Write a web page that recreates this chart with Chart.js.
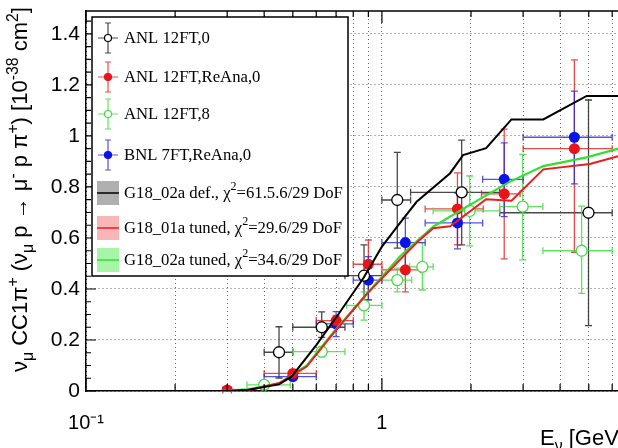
<!DOCTYPE html>
<html>
<head>
<meta charset="utf-8">
<script src="https://cdn.jsdelivr.net/npm/chart.js@4.4.1/dist/chart.umd.min.js"></script>
<style>
html, body { margin: 0; padding: 0; background: #fff; overflow: hidden; }
#wrap { width: 618px; height: 448px; overflow: hidden; }
canvas { display: block; }
</style>
</head>
<body>
<div id="wrap"><canvas id="myChart" width="650" height="448"></canvas></div>
<script>
// axis ticks
var yTicks = [0, 0.2, 0.4, 0.6, 0.8, 1, 1.2, 1.4];
var xTicks = [0.1, 0.2, 0.3, 0.4, 0.5, 0.6, 0.7, 0.8, 0.9, 1, 2, 3, 4, 5, 6];
var xMajor = [0.1, 1];

// ANL 12FT,0 (open black)
var anl0E    = [0.449, 0.626, 0.87, 1.127, 1.86, 4.99];
var anl0Elo  = [0.40, 0.50, 0.75, 1.0, 1.25, 2.5];
var anl0Ehi  = [0.50, 0.75, 1.0, 1.25, 2.5, 6.0];
var anl0Sig  = [0.152, 0.25, 0.452, 0.749, 0.779, 0.699];
var anl0Lo   = [0.051, 0.21, 0.357, 0.56, 0.573, 0.256];
var anl0Hi   = [0.252, 0.31, 0.573, 0.936, 0.984, 1.141];

// ANL 12FT,ReAna,0 (red)
var anlRE    = [0.30, 0.50, 0.70, 0.90, 1.2, 1.80, 2.59, 4.47];
var anlRElo  = [0.29, 0.40, 0.60, 0.80, 1.0, 1.4, 2.17, 3.0];
var anlREhi  = [0.31, 0.60, 0.80, 1.0, 1.35, 2.2, 2.93, 6.0];
var anlRSig  = [0.004, 0.069, 0.276, 0.497, 0.475, 0.714, 0.773, 0.95];
var anlRLo   = [0.0, 0.057, 0.256, 0.357, 0.389, 0.573, 0.518, 0.544];
var anlRHi   = [0.008, 0.081, 0.296, 0.592, 0.592, 0.855, 1.027, 1.298];

// ANL 12FT,8 (open green)
var anl8E    = [0.40, 0.626, 0.87, 1.127, 1.37, 1.98, 2.99, 4.73];
var anl8Elo  = [0.35, 0.50, 0.76, 1.0, 1.24, 1.49, 2.5, 3.5];
var anl8Ehi  = [0.49, 0.75, 1.0, 1.26, 1.49, 2.5, 3.5, 6.0];
var anl8Sig  = [0.024, 0.154, 0.336, 0.435, 0.487, 0.706, 0.723, 0.55];
var anl8Lo   = [0.014, 0.134, 0.278, 0.389, 0.396, 0.569, 0.514, 0.383];
var anl8Hi   = [0.034, 0.174, 0.389, 0.482, 0.582, 0.843, 0.928, 0.725];

// BNL 7FT,ReAna,0 (blue)
var bnlE     = [0.50, 0.70, 0.90, 1.2, 1.80, 2.59, 4.47];
var bnlElo   = [0.40, 0.60, 0.80, 1.0, 1.4, 2.19, 3.0];
var bnlEhi   = [0.60, 0.80, 1.0, 1.4, 2.19, 3.0, 6.0];
var bnlSig   = [0.056, 0.263, 0.435, 0.582, 0.659, 0.83, 0.995];
var bnlLo    = [0.044, 0.213, 0.357, 0.487, 0.557, 0.684, 0.812];
var bnlHi    = [0.068, 0.311, 0.527, 0.678, 0.776, 0.973, 1.176];

// model curves
var defE   = [0.1, 0.30, 0.35, 0.449, 0.495, 0.60, 0.703, 0.865, 1.0, 1.15, 1.31, 1.70, 1.88, 2.25, 2.74, 3.51, 4.92, 7];
var defSig = [0, 0, 0.004, 0.026, 0.056, 0.18, 0.291, 0.442, 0.566, 0.658, 0.742, 0.854, 0.925, 0.952, 1.065, 1.065, 1.157, 1.157];
var tun1E   = [0.1, 0.30, 0.358, 0.45, 0.557, 0.685, 0.888, 1.15, 1.32, 1.49, 1.70, 2.25, 2.74, 3.51, 5.04, 7];
var tun1Sig = [0, 0, 0.004, 0.031, 0.096, 0.226, 0.38, 0.514, 0.585, 0.638, 0.646, 0.752, 0.746, 0.869, 0.89, 0.935];
var tun2E   = [0.1, 0.28, 0.35, 0.45, 0.557, 0.685, 0.888, 1.15, 1.49, 1.93, 2.7, 3.51, 4.92, 7];
var tun2Sig = [0, 0, 0.006, 0.03, 0.1, 0.23, 0.38, 0.527, 0.644, 0.722, 0.82, 0.882, 0.916, 0.965];

function pts(xs, ys) {
    return xs.map(function (x, i) { return { x: x, y: ys[i] }; });
}

// draws text with ^{..} and _{..} parts, returns width
function drawRich(ctx, str, x, y, size, family) {
    var parts = [], re = /([\^_])\{([^}]*)\}/g, last = 0, m;
    while ((m = re.exec(str)) !== null) {
        if (m.index > last) parts.push({ t: str.slice(last, m.index), k: '' });
        parts.push({ t: m[2], k: m[1] });
        last = re.lastIndex;
    }
    if (last < str.length) parts.push({ t: str.slice(last), k: '' });
    var cx = x;
    parts.forEach(function (p) {
        var s = p.k ? size * 0.72 : size;
        var dy = p.k === '^' ? -size * 0.42 : (p.k === '_' ? size * 0.25 : 0);
        ctx.font = s + 'px ' + family;
        ctx.fillText(p.t, cx, y + dy);
        cx += ctx.measureText(p.t).width;
    });
    return cx - x;
}

var errBars = {
    id: 'errBars',
    beforeDatasetsDraw: function (chart) {
        var ctx = chart.ctx, xs = chart.scales.x, ys = chart.scales.y;
        chart.data.datasets.forEach(function (ds) {
            if (!ds.err) return;
            ctx.save();
            ctx.strokeStyle = ds.errColor;
            ctx.lineWidth = 1.3;
            ds.data.forEach(function (p, i) {
                var px = xs.getPixelForValue(p.x), py = ys.getPixelForValue(p.y);
                var x0 = xs.getPixelForValue(ds.err.xlo[i]), x1 = xs.getPixelForValue(ds.err.xhi[i]);
                var y0 = ys.getPixelForValue(ds.err.ylo[i]), y1 = ys.getPixelForValue(ds.err.yhi[i]);
                var c = 3.5;
                ctx.beginPath();
                ctx.moveTo(x0, py); ctx.lineTo(x1, py);
                ctx.moveTo(x0, py - c); ctx.lineTo(x0, py + c);
                ctx.moveTo(x1, py - c); ctx.lineTo(x1, py + c);
                ctx.moveTo(px, y0); ctx.lineTo(px, y1);
                ctx.moveTo(px - c, y0); ctx.lineTo(px + c, y0);
                ctx.moveTo(px - c, y1); ctx.lineTo(px + c, y1);
                ctx.stroke();
            });
            ctx.restore();
        });
    }
};

var frame = {
    id: 'frame',
    afterDraw: function (chart) {
        var ctx = chart.ctx, a = chart.chartArea, xs = chart.scales.x, ys = chart.scales.y;
        ctx.save();
        ctx.strokeStyle = '#000';
        ctx.lineWidth = 1.5;
        ctx.beginPath();
        ctx.moveTo(a.left, a.top); ctx.lineTo(a.right, a.top); ctx.lineTo(a.right, a.bottom);
        ctx.stroke();
        // inward ticks
        ctx.lineWidth = 1.2;
        ctx.beginPath();
        xTicks.forEach(function (v) {
            var px = xs.getPixelForValue(v);
            var big = xMajor.indexOf(v) >= 0;
            ctx.moveTo(px, a.bottom); ctx.lineTo(px, a.bottom - (big ? 13 : 7));
            ctx.moveTo(px, a.top); ctx.lineTo(px, a.top + (big ? 12 : 6));
        });
        for (var k = 0; k <= 29; k++) {
            var v = k * 0.05, py = ys.getPixelForValue(v);
            var len = (k % 4 === 0) ? 10 : 5;
            ctx.moveTo(a.left, py); ctx.lineTo(a.left + len, py);
        }
        ctx.stroke();

        // legend
        var lx0 = 92, ly0 = 17, lx1 = 348, ly1 = 276;
        var rows = [38, 77, 114, 155, 193, 228, 260];
        ctx.fillStyle = '#fff';
        ctx.fillRect(lx0, ly0, lx1 - lx0, ly1 - ly0);
        ctx.lineWidth = 1.5;
        ctx.strokeRect(lx0, ly0, lx1 - lx0, ly1 - ly0);
        chart.data.datasets.forEach(function (ds, i) {
            var cy = rows[i], mx = 108;
            ctx.save();
            if (ds.err) {
                ctx.strokeStyle = ds.errColor;
                ctx.lineWidth = 1.2;
                ctx.beginPath();
                ctx.moveTo(98, cy); ctx.lineTo(118, cy);
                ctx.moveTo(mx, cy - 15); ctx.lineTo(mx, cy + 15);
                ctx.moveTo(mx - 3, cy - 15); ctx.lineTo(mx + 3, cy - 15);
                ctx.moveTo(mx - 3, cy + 15); ctx.lineTo(mx + 3, cy + 15);
                ctx.stroke();
                ctx.beginPath();
                ctx.arc(mx, cy, 3.5, 0, Math.PI * 2);
                ctx.fillStyle = ds.pointBackgroundColor;
                ctx.fill();
                ctx.strokeStyle = ds.pointBorderColor;
                ctx.lineWidth = 1.2;
                ctx.stroke();
            } else {
                ctx.fillStyle = ds.bandColor;
                ctx.fillRect(97, cy - 12, 22, 24);
                ctx.strokeStyle = ds.borderColor;
                ctx.lineWidth = 1.5;
                ctx.beginPath();
                ctx.moveTo(97, cy); ctx.lineTo(119, cy);
                ctx.stroke();
            }
            ctx.fillStyle = '#000';
            ctx.textBaseline = 'middle';
            drawRich(ctx, ds.label, 124, cy + 1, 16.7, '"Liberation Serif", serif');
            ctx.restore();
        });

        // axis titles
        ctx.fillStyle = '#000';
        ctx.textBaseline = 'alphabetic';
        drawRich(ctx, 'E_{\u03bd} [GeV]', 540, 445, 22, '"Liberation Sans", Arial, sans-serif');
        ctx.save();
        ctx.translate(27, 372);
        ctx.rotate(-Math.PI / 2);
        drawRich(ctx, '\u03bd_{\u03bc} CC1\u03c0^{+} (\u03bd_{\u03bc} p \u2192 \u03bc^{-} p \u03c0^{+}) [10^{-38} cm^{2}]', 0, 0, 22, '"Liberation Sans", Arial, sans-serif');
        ctx.restore();
        ctx.restore();
    }
};

var ctx = document.getElementById('myChart').getContext('2d');
var myChart = new Chart(ctx, {
    type: 'scatter',
    data: {
        datasets: [{
            label: 'ANL 12FT,0',
            data: pts(anl0E, anl0Sig),
            err: { xlo: anl0Elo, xhi: anl0Ehi, ylo: anl0Lo, yhi: anl0Hi },
            errColor: 'rgba(40,40,40,0.85)',
            pointRadius: 5.5, pointBorderWidth: 1.3,
            pointBackgroundColor: '#fff', pointBorderColor: '#000',
            order: 2
        }, {
            label: 'ANL 12FT,ReAna,0',
            data: pts(anlRE, anlRSig),
            err: { xlo: anlRElo, xhi: anlREhi, ylo: anlRLo, yhi: anlRHi },
            errColor: 'rgba(225,30,30,0.8)',
            pointRadius: 5.5, pointBorderWidth: 0,
            pointBackgroundColor: '#e8141a', pointBorderColor: '#e8141a',
            order: 2
        }, {
            label: 'ANL 12FT,8',
            data: pts(anl8E, anl8Sig),
            err: { xlo: anl8Elo, xhi: anl8Ehi, ylo: anl8Lo, yhi: anl8Hi },
            errColor: 'rgba(70,220,70,0.85)',
            pointRadius: 5.5, pointBorderWidth: 1.3,
            pointBackgroundColor: '#fff', pointBorderColor: '#44dd44',
            order: 2
        }, {
            label: 'BNL 7FT,ReAna,0',
            data: pts(bnlE, bnlSig),
            err: { xlo: bnlElo, xhi: bnlEhi, ylo: bnlLo, yhi: bnlHi },
            errColor: 'rgba(40,40,210,0.8)',
            pointRadius: 5.5, pointBorderWidth: 0,
            pointBackgroundColor: '#0a14e6', pointBorderColor: '#0a14e6',
            order: 2
        }, {
            label: 'G18_02a def., \u03c7^{2}=61.5.6/29 DoF',
            data: pts(defE, defSig),
            showLine: true, borderColor: '#000', borderWidth: 2,
            bandColor: '#b0b0b0', pointRadius: 0, order: 1
        }, {
            label: 'G18_01a tuned, \u03c7^{2}=29.6/29 DoF',
            data: pts(tun1E, tun1Sig),
            showLine: true, borderColor: '#ee1c1c', borderWidth: 2,
            bandColor: '#f9b6b6', pointRadius: 0, order: 1
        }, {
            label: 'G18_02a tuned, \u03c7^{2}=34.6/29 DoF',
            data: pts(tun2E, tun2Sig),
            showLine: true, borderColor: '#2fe22f', borderWidth: 2.2,
            bandColor: '#a8f5a8', pointRadius: 0, order: 1
        }]
    },
    options: {
        responsive: false,
        animation: false,
        layout: { padding: { top: 11, right: 18, left: 0, bottom: 0 } },
        plugins: { legend: { display: false }, tooltip: { enabled: false } },
        scales: {
            x: {
                type: 'logarithmic',
                min: 0.1, max: 7,
                afterBuildTicks: function (s) { s.ticks = xTicks.map(function (v) { return { value: v }; }); },
                afterFit: function (s) { s.height = 57; s.paddingLeft = 0; s.paddingRight = 0; },
                ticks: {
                    autoSkip: false, maxRotation: 0, padding: 20, color: '#000',
                    font: { family: '"Liberation Sans", Arial, sans-serif', size: 20 },
                    callback: function (v) { return v === 0.1 ? '10\u207b\u00b9' : (v === 1 ? '1' : ''); }
                },
                grid: { color: 'rgba(0,0,0,0.6)', lineWidth: 1, drawTicks: false },
                border: { display: true, color: '#000', width: 1.5, dash: [1, 3] }
            },
            y: {
                min: 0, max: 1.49,
                afterBuildTicks: function (s) { s.ticks = yTicks.map(function (v) { return { value: v }; }); },
                afterFit: function (s) { s.width = 86; s.paddingTop = 0; s.paddingBottom = 0; },
                ticks: {
                    padding: 6, color: '#000',
                    font: { family: '"Liberation Sans", Arial, sans-serif', size: 21 },
                    callback: function (v) { return String(+v.toFixed(1)); }
                },
                grid: { color: 'rgba(0,0,0,0.6)', lineWidth: 1, drawTicks: false },
                border: { display: true, color: '#000', width: 1.5, dash: [1, 3] }
            }
        }
    },
    plugins: [errBars, frame]
});
</script>
</body>
</html>
